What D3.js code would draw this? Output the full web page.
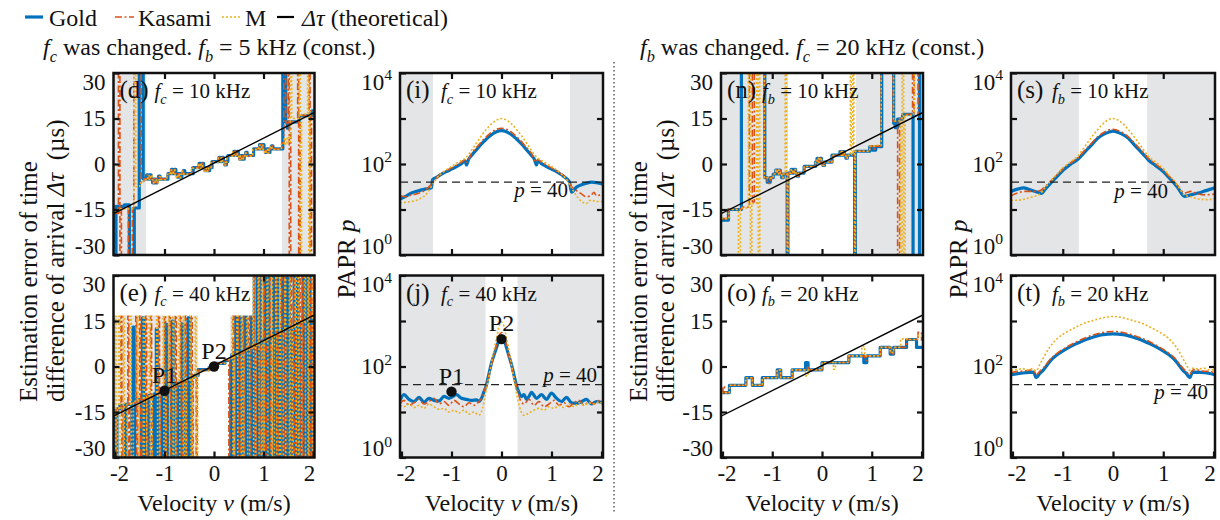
<!DOCTYPE html>
<html>
<head>
<meta charset="utf-8">
<script src="https://cdn.jsdelivr.net/npm/d3@7"></script>
<style>
  body { margin: 0; background: #fff; }
  svg { display: block; font-family: "Liberation Serif", "Times New Roman", serif; }
</style>
</head>
<body>
<svg id="fig" width="1220" height="520"></svg>
<script>
// ---------- axis values ----------
const velDomain = [-2.03, 2.03];
const velTicks = [-2, -1, 0, 1, 2];
const tauTicks = [-30, -15, 0, 15, 30];
const paprTicks = [1, 10, 100, 1000, 10000];
const paprLabelTicks = [1, 100, 10000];
const pThreshold = 40;

// theoretical Δτ (µs) at the ends of the velocity range
const theoryV = [-2.03, 2.03];
const theoryTau = [-16.4, 17.0];

// shaded velocity ranges (m/s)
const grayD = [[-2.03, -1.37], [1.37, 2.03]];
const grayE = [[-2.03, -0.32], [0.32, 2.03]];
const grayI = [[-2.03, -1.37], [1.37, 2.03]];
const grayJ = [[-2.03, -0.32], [0.32, 2.03]];
const grayN = [[-2.03, -0.68], [0.68, 2.03]];
const grayS = [[-2.03, -0.68], [0.68, 2.03]];

// ---------- (d) fc = 10 kHz : estimated Δτ [v, µs] ----------
const goldD = [
  [-2.03,-16.5],[-2.0,-33],[-1.98,-14],[-1.81,-13.5],[-1.71,-33],[-1.61,-14.5],[-1.51,33],[-1.43,-4.9],
  [-1.36,-3.6],[-1.33,-5],[-1.30,-3.6],[-1.27,-5],[-1.24,-6.2],[-1.21,-5],[-1.18,-6.2],[-1.15,-5],[-1.12,-4],[-1.09,-5],
  [-0.93,-3.2],[-0.86,-1.8],[-0.83,-3.2],[-0.80,-1.8],[-0.77,-3.2],[-0.74,-4.3],[-0.71,-3.2],[-0.68,-4.3],[-0.65,-3.2],[-0.62,-2.2],[-0.59,-3.2],
  [-0.42,-1.2],[-0.30,0.2],[-0.27,-1.2],[-0.24,0.2],[-0.21,-1.2],[-0.18,-2.2],[-0.15,-1.2],[-0.12,-2.2],[-0.09,-1.2],[-0.04,0.8],
  [0.10,2.2],[0.13,0.8],[0.16,2.2],[0.19,0.8],[0.22,-0.3],[0.25,0.8],[0.28,2.8],
  [0.40,4.2],[0.43,2.8],[0.46,4.2],[0.49,2.8],[0.52,1.6],[0.55,2.8],[0.58,1.6],[0.61,2.8],[0.64,3.8],[0.67,2.8],
  [0.80,5],[0.92,6.4],[0.95,5],[0.98,6.4],[1.01,5],[1.04,3.8],[1.07,5],[1.10,3.8],[1.13,5],[1.16,6],[1.19,5],
  [1.39,33],[1.45,13.9],[1.48,11.8],[1.51,13.9],[1.72,15.9],[1.98,17.5],[2.03,17.5]
];
const kasamiD = [
  [-2.03,-16.3],[-1.93,33],[-1.90,-33],[-1.87,-14.5],[-1.73,-33],[-1.65,-14.5],[-1.62,33],[-1.47,-6.2],[-1.42,-4.9],
  [-1.35,-3.6],[-1.32,-4.9],[-1.29,-3.6],[-1.26,-4.9],[-1.23,-6.2],[-1.20,-4.9],[-1.17,-6.2],[-1.14,-4.9],[-1.11,-4],[-1.08,-4.9],
  [-0.94,-3.2],[-0.87,-1.8],[-0.84,-3.2],[-0.81,-1.8],[-0.78,-3.2],[-0.75,-4.3],[-0.72,-3.2],[-0.69,-4.3],[-0.66,-3.2],[-0.63,-2.2],[-0.60,-3.2],
  [-0.45,-1.2],[-0.31,0.2],[-0.28,-1.2],[-0.25,0.2],[-0.22,-1.2],[-0.19,-2.2],[-0.16,-1.2],[-0.13,-2.2],[-0.10,-1.2],[-0.05,0.8],
  [0.09,2.2],[0.12,0.8],[0.15,2.2],[0.18,0.8],[0.21,-0.3],[0.24,0.8],[0.27,2.8],
  [0.39,4.2],[0.42,2.8],[0.45,4.2],[0.48,2.8],[0.51,1.6],[0.54,2.8],[0.57,1.6],[0.60,2.8],[0.63,3.8],[0.66,2.8],
  [0.79,5],[0.91,6.4],[0.94,5],[0.97,6.4],[1.00,5],[1.03,3.8],[1.06,5],[1.09,3.8],[1.12,5],[1.15,6],[1.18,5],
  [1.38,7],[1.41,33],[1.45,13.5],[1.50,33],[1.52,-33],[1.55,14],[1.69,33],[1.71,-33],[1.74,16],[1.92,33],[1.94,-33],[1.97,17.8]
];
const mD = [
  [-2.03,-15.5],[-1.88,-14.8],[-1.62,33],[-1.58,-7.5],[-1.50,-6.3],[-1.43,-5.2],
  [-1.34,-3.8],[-1.31,-5.2],[-1.28,-3.8],[-1.25,-5.2],[-1.22,-6.4],[-1.19,-5.2],[-1.16,-6.2],[-1.13,-5.2],[-1.10,-4.2],[-1.07,-5.2],
  [-0.95,-3.4],[-0.88,-2.0],[-0.85,-3.4],[-0.82,-2.0],[-0.79,-3.4],[-0.76,-4.5],[-0.73,-3.4],[-0.70,-4.5],[-0.67,-3.4],[-0.64,-2.4],[-0.61,-3.4],
  [-0.46,-1.4],[-0.32,0.0],[-0.29,-1.4],[-0.26,0.0],[-0.23,-1.4],[-0.20,-2.4],[-0.17,-1.4],[-0.14,-2.4],[-0.11,-1.4],[-0.06,0.6],
  [0.08,2.0],[0.11,0.6],[0.14,2.0],[0.17,0.6],[0.20,-0.5],[0.23,0.6],[0.26,2.6],
  [0.38,4.0],[0.41,2.6],[0.44,4.0],[0.47,2.6],[0.50,1.4],[0.53,2.6],[0.56,1.4],[0.59,2.6],[0.62,3.6],[0.65,2.6],
  [0.78,4.8],[0.90,6.2],[0.93,4.8],[0.96,6.2],[0.99,4.8],[1.02,3.6],[1.05,4.8],[1.08,3.6],[1.11,4.8],[1.14,5.8],[1.17,4.8],
  [1.36,6.5],[1.42,8.5],[1.45,6.5],[1.48,9],[1.51,7],[1.54,33],[1.57,15],[1.72,33],[1.745,-33],[1.77,16.5],[1.89,33],[1.915,-33],[1.94,17.5]
];

// ---------- (e) fc = 40 kHz : estimated Δτ [v, µs] ----------
const goldE = [
  [-2.03,-33],[-2.025,-15],[-2.01,-33],[-1.995,-14.5],[-1.975,-33],[-1.96,-14],[-1.90,-12.8],[-1.80,-33],[-1.78,-12.5],
  [-1.66,-33],[-1.64,13],[-1.615,-33],[-1.60,-11],[-1.47,-33],[-1.445,16],[-1.42,-33],[-1.405,-10],[-1.33,-33],[-1.315,-9.5],
  [-1.22,-33],[-1.205,-9],[-1.18,-33],[-1.165,12.5],[-1.145,-33],[-1.13,-8.5],[-1.05,-33],[-1.035,-8],[-0.99,-33],[-0.975,14],
  [-0.955,-33],[-0.94,-7],[-0.86,-33],[-0.845,15],[-0.825,-33],[-0.81,-6],[-0.74,-33],[-0.725,-5.5],[-0.66,-33],[-0.645,14],
  [-0.625,-33],[-0.61,-5],[-0.54,-33],[-0.525,16],[-0.50,-33],[-0.485,-3.5],[-0.40,-3],[-0.32,-1],
  [-0.10,-0.4],[0.02,1.0],[0.22,2.0],
  [0.34,-33],[0.36,4],[0.44,33],[0.46,-33],[0.49,4.5],[0.52,33],[0.54,-33],[0.57,5],[0.63,33],[0.65,-33],[0.68,6],
  [0.74,-33],[0.76,33],[0.79,-33],[0.82,7],[0.87,33],[0.89,-33],[0.92,33],[0.94,-33],[0.97,8.5],[1.03,33],[1.05,-33],
  [1.09,33],[1.11,-33],[1.14,9.5],[1.2,33],[1.22,-33],[1.27,33],[1.29,-33],[1.33,11],[1.38,33],[1.40,-33],[1.45,33],
  [1.47,-33],[1.5,33],[1.52,-33],[1.56,13],[1.62,33],[1.64,-33],[1.68,33],[1.70,-33],[1.75,14.5],[1.80,33],[1.82,-33],
  [1.86,33],[1.88,-33],[1.92,33],[1.94,-33],[1.97,16.5],[2.03,16.5]
];
const kasamiE = [
  [-2.03,-15],[-1.99,-33],[-1.97,-14],[-1.88,33],[-1.86,-33],[-1.84,-13],[-1.74,33],[-1.72,-33],[-1.70,-12],[-1.58,33],
  [-1.56,-33],[-1.54,-11],[-1.50,33],[-1.48,-33],[-1.46,-11],[-1.38,33],[-1.36,-33],[-1.34,-10],[-1.28,33],[-1.26,-33],
  [-1.24,-9.5],[-1.12,33],[-1.10,-33],[-1.08,-8.5],[-1.00,33],[-0.98,-33],[-0.96,-7.5],[-0.90,33],[-0.88,-33],[-0.86,-7],
  [-0.78,33],[-0.76,-33],[-0.74,-6],[-0.68,33],[-0.66,-33],[-0.64,-5],[-0.58,33],[-0.56,-33],[-0.54,-4.5],[-0.46,33],
  [-0.44,-33],[-0.42,-3.5],[-0.36,-33],[-0.34,-2.5],[-0.32,-1],
  [-0.10,-0.4],[0.02,1.2],[0.18,2.2],
  [0.30,-33],[0.32,3],[0.38,33],[0.40,-33],[0.43,4],[0.48,33],[0.50,-33],[0.53,4.5],[0.58,33],[0.60,-33],[0.62,5.5],
  [0.70,33],[0.72,-33],[0.75,6.5],[0.80,33],[0.82,-33],[0.85,7.5],[0.90,33],[0.92,-33],[0.95,8],[1.00,33],[1.02,-33],
  [1.06,9],[1.12,33],[1.14,-33],[1.17,10],[1.24,33],[1.26,-33],[1.30,11],[1.35,33],[1.37,-33],[1.42,33],[1.44,-33],
  [1.48,12.5],[1.54,33],[1.56,-33],[1.60,33],[1.62,-33],[1.66,14],[1.72,33],[1.74,-33],[1.78,33],[1.80,-33],[1.84,15],
  [1.89,33],[1.91,-33],[1.95,33],[1.98,-33],[2.01,17]
];
const mE = [
  [-2.03,-16],[-2.0,33],[-1.98,-33],[-1.95,-14],[-1.92,33],[-1.90,-33],[-1.83,33],[-1.81,-33],[-1.76,-12.5],[-1.69,33],
  [-1.67,-33],[-1.63,-11.5],[-1.55,33],[-1.53,-33],[-1.43,33],[-1.41,-33],[-1.36,-10],[-1.31,33],[-1.29,-33],[-1.25,-9.5],
  [-1.16,33],[-1.14,-33],[-1.10,-8.5],[-1.03,33],[-1.01,-33],[-0.97,-7.5],[-0.92,33],[-0.90,-33],[-0.83,33],[-0.81,-33],
  [-0.77,-6],[-0.71,33],[-0.69,-33],[-0.62,33],[-0.60,-33],[-0.56,-4.5],[-0.49,33],[-0.47,-33],[-0.43,-3.5],[-0.38,33],
  [-0.36,-33],[-0.33,-1.5],
  [-0.10,-0.6],[0.02,1.0],[0.22,2.3],
  [0.36,33],[0.38,-33],[0.41,3.8],[0.46,33],[0.48,-33],[0.55,33],[0.57,-33],[0.60,5.2],[0.66,33],[0.68,-33],[0.72,6],
  [0.78,33],[0.80,-33],[0.84,7],[0.89,33],[0.91,-33],[0.96,33],[0.98,-33],[1.02,8.5],[1.07,33],[1.09,-33],[1.16,33],
  [1.18,-33],[1.22,10],[1.25,33],[1.27,-33],[1.32,33],[1.34,-33],[1.40,12],[1.43,33],[1.45,-33],[1.52,33],[1.54,-33],
  [1.58,13],[1.64,33],[1.66,-33],[1.70,33],[1.72,-33],[1.77,14.5],[1.83,33],[1.85,-33],[1.90,33],[1.92,-33],[1.99,33],[2.01,-33]
];
const markersE = [[-1, -8, "P1"], [0, 0, "P2"]];

// ---------- (i) fc = 10 kHz : PAPR [v, p] ----------
const goldI = [
  [-2.03,17],[-1.9,20],[-1.8,23],[-1.7,25],[-1.6,27],[-1.5,28.5],[-1.40,30],[-1.38,45],[-1.3,51],[-1.2,60],[-1.1,68],
  [-1.0,77],[-0.9,88],[-0.8,102],[-0.73,118],[-0.70,95],[-0.66,125],[-0.6,154],[-0.5,205],[-0.4,277],[-0.3,355],
  [-0.2,440],[-0.1,510],[0,540],[0.1,510],[0.2,440],[0.3,355],[0.4,277],[0.5,205],[0.6,154],[0.66,125],[0.70,95],
  [0.73,118],[0.8,102],[0.9,88],[1.0,77],[1.1,68],[1.2,58],[1.3,48],[1.36,40],[1.40,24],[1.5,31],[1.6,35],[1.7,38],
  [1.8,40],[1.9,39],[2.03,36]
];
const kasamiI = [
  [-2.03,20],[-1.9,19],[-1.8,21],[-1.7,22],[-1.6,24],[-1.5,28],[-1.4,36],[-1.3,50],[-1.2,62],[-1.1,72],[-1.0,82],
  [-0.9,95],[-0.8,110],[-0.72,125],[-0.70,110],[-0.6,170],[-0.5,230],[-0.4,310],[-0.3,400],[-0.2,500],[-0.1,580],
  [0,610],[0.1,580],[0.2,500],[0.3,400],[0.4,310],[0.5,230],[0.6,170],[0.70,110],[0.72,125],[0.8,110],[0.9,95],
  [1.0,82],[1.1,70],[1.2,60],[1.3,48],[1.4,32],[1.5,26],[1.6,22],[1.7,19],[1.8,21],[1.85,24],[1.9,20],[2.0,22],[2.03,23]
];
const mI = [
  [-2.03,14],[-1.9,14.5],[-1.8,15],[-1.7,16],[-1.6,18],[-1.5,22],[-1.4,32],[-1.3,48],[-1.2,62],[-1.1,75],[-1.0,88],
  [-0.9,103],[-0.8,120],[-0.72,135],[-0.6,200],[-0.5,290],[-0.4,420],[-0.3,580],[-0.2,760],[-0.1,920],[0,1000],
  [0.1,920],[0.2,760],[0.3,580],[0.4,420],[0.5,290],[0.6,200],[0.72,135],[0.8,120],[0.9,103],[1.0,88],[1.1,74],
  [1.2,60],[1.3,46],[1.4,30],[1.5,20],[1.6,15],[1.7,13.5],[1.75,15.5],[1.8,16],[1.9,15],[2.03,15]
];

// ---------- (j) fc = 40 kHz : PAPR [v, p] ----------
const goldJ = [
  [-2.03,18],[-1.95,24],[-1.85,19],[-1.75,17],[-1.65,21],[-1.55,16.5],[-1.45,20],[-1.35,18],[-1.25,17.5],[-1.15,22],
  [-1.05,20],[-1.0,21],[-0.9,24],[-0.8,20],[-0.7,19],[-0.6,18],[-0.5,18.5],[-0.45,17],[-0.4,20],[-0.35,28],[-0.3,40],
  [-0.25,70],[-0.2,120],[-0.15,180],[-0.1,260],[-0.05,380],[0,430],[0.05,390],[0.1,260],[0.15,170],[0.2,110],
  [0.25,65],[0.3,38],[0.35,27],[0.4,22],[0.45,24],[0.5,19],[0.55,22],[0.6,27],[0.7,20],[0.8,24],[0.9,19],[1.0,26],
  [1.1,20],[1.2,17],[1.3,21],[1.4,16],[1.5,15.5],[1.6,17],[1.7,19],[1.8,15],[1.9,17],[2.03,16]
];
const kasamiJ = [
  [-2.03,15],[-1.95,18],[-1.85,14],[-1.75,16],[-1.65,19],[-1.55,15],[-1.45,17],[-1.35,20],[-1.25,15],[-1.15,17],
  [-1.05,14],[-0.95,18],[-0.85,15],[-0.75,13],[-0.65,16],[-0.55,14],[-0.45,17],[-0.38,22],[-0.32,35],[-0.26,60],
  [-0.2,110],[-0.15,180],[-0.1,300],[-0.05,480],[0,560],[0.05,470],[0.1,300],[0.15,170],[0.2,100],[0.26,55],[0.32,30],
  [0.38,18],[0.45,15],[0.55,19],[0.65,14],[0.75,17],[0.85,13],[0.95,15],[1.05,18],[1.15,14],[1.25,16],[1.35,13],
  [1.45,16],[1.55,18],[1.65,14],[1.75,17],[1.85,15],[1.95,18],[2.03,14]
];
const mJ = [
  [-2.03,14],[-1.95,13],[-1.85,15],[-1.75,12.5],[-1.65,14],[-1.55,12],[-1.45,15],[-1.35,13],[-1.25,11.5],[-1.15,12],
  [-1.05,10],[-0.95,11],[-0.85,9.5],[-0.75,11],[-0.65,9],[-0.55,10],[-0.45,8.5],[-0.38,12],[-0.32,25],[-0.26,55],
  [-0.2,120],[-0.15,230],[-0.1,420],[-0.05,750],[0,950],[0.05,760],[0.1,420],[0.15,220],[0.2,110],[0.26,45],[0.32,20],
  [0.38,11],[0.45,8.5],[0.55,9.5],[0.65,11],[0.75,12],[0.85,11],[0.95,13],[1.05,12],[1.15,14],[1.25,12.5],[1.35,15],
  [1.45,13],[1.55,16],[1.65,14],[1.75,16],[1.85,15],[1.95,16.5],[2.03,15]
];
const markersJ = [[-1, 28, "P1"], [0, 400, "P2"]];

// ---------- (n) fb = 10 kHz : estimated Δτ [v, µs] ----------
const goldN = [
  [-2.03,-18.5],[-1.88,-15],[-1.62,33],[-1.15,-4.5],[-1.10,-6],[-1.04,-4.5],[-0.98,-3.3],
  [-0.93,-2.0],[-0.90,-3.3],[-0.87,-2.0],[-0.84,-3.3],[-0.81,-4.5],[-0.78,-3.3],
  [-0.70,-33],[-0.685,-3.0],
  [-0.62,-1.8],[-0.59,-3.0],[-0.56,-1.8],[-0.53,-3.0],[-0.50,-4.0],[-0.47,-3.0],
  [-0.36,-0.8],
  [-0.13,0.6],[-0.10,1.9],[-0.07,0.6],[-0.04,1.9],[-0.01,0.6],[0.02,-0.5],[0.05,0.6],
  [0.20,2.9],[0.36,4.1],[0.39,2.9],[0.42,4.1],[0.45,2.9],[0.48,1.9],[0.51,2.9],
  [0.655,-33],[0.67,4.2],
  [0.96,5.7],[1.01,4.6],[1.08,5.7],
  [1.20,33],[1.44,13.4],[1.47,12],[1.52,14.8],[1.62,16.4],[1.83,-33],[1.96,33]
];
const kasamiN = [
  [-2.03,-18],[-1.87,-14.8],[-1.60,-14.2],[-1.46,33],[-1.40,-12.5],[-1.36,33],[-1.15,-4.5],[-1.10,-6.4],[-1.04,-4.5],[-0.98,-3.3],
  [-0.93,-2.0],[-0.90,-3.3],[-0.87,-2.0],[-0.84,-3.3],[-0.81,-4.5],[-0.78,-3.3],
  [-0.70,-33],[-0.685,-3.0],
  [-0.62,-1.8],[-0.59,-3.0],[-0.56,-1.8],[-0.53,-3.0],[-0.50,-4.0],[-0.47,-3.0],
  [-0.36,-0.8],
  [-0.13,0.6],[-0.10,1.9],[-0.07,0.6],[-0.04,1.9],[-0.01,0.6],[0.02,-0.5],[0.05,0.6],
  [0.20,2.9],[0.36,4.1],[0.39,2.9],[0.42,4.1],[0.45,2.9],[0.48,1.9],[0.51,2.9],
  [0.655,-33],[0.67,4.2],
  [0.96,5.9],[1.02,5.0],[1.08,5.9],
  [1.19,33],[1.43,14],[1.52,-33],[1.56,15],[1.64,16.4],[1.82,33],[1.85,16],[1.93,33]
];
const mN = [
  [-2.03,-18],[-1.87,-15],[-1.68,-33],[-1.64,-14.5],[-1.48,33],[-1.44,-33],[-1.41,-13],[-1.31,33],[-1.28,-33],[-1.25,33],
  [-1.16,-4.5],[-1.04,-4.7],[-0.98,-3.3],
  [-0.93,-2.0],[-0.90,-3.3],[-0.87,-2.0],[-0.84,-3.3],[-0.81,-4.5],[-0.78,-3.3],
  [-0.74,33],[-0.715,-3.0],[-0.70,-33],[-0.685,-3.0],
  [-0.62,-1.8],[-0.59,-3.0],[-0.56,-1.8],[-0.53,-3.0],[-0.50,-4.0],[-0.47,-3.0],
  [-0.36,-0.8],
  [-0.13,0.6],[-0.10,1.9],[-0.07,0.6],[-0.04,1.9],[-0.01,0.6],[0.02,-0.5],[0.05,0.6],
  [0.20,2.9],[0.36,4.1],[0.39,2.9],[0.42,4.1],[0.45,2.9],[0.48,1.9],[0.51,2.9],
  [0.57,33],[0.59,3.2],[0.62,33],[0.64,3.4],[0.655,-33],[0.67,4.2],
  [0.96,5.9],[1.08,6.2],
  [1.19,33],[1.44,14.2],[1.58,-33],[1.61,33],[1.64,-33],[1.67,16],[1.83,16.5],[1.86,33]
];

// ---------- (o) fb = 20 kHz : estimated Δτ [v, µs] ----------
const goldO = [
  [-2.03,-8.6],[-1.86,-6.2],[-1.53,-3.7],[-1.40,-6.2],[-1.20,-3.7],[-0.90,-1.1],[-0.83,-3.7],[-0.60,-1.1],
  [-0.33,1.3],[-0.28,-1.1],[0.0,1.3],[0.54,3.5],[0.84,1.3],[0.90,3.5],[1.17,6.3],[1.37,4.1],[1.44,6.3],
  [1.70,8.9],[1.90,6.3],[2.03,6.3]
];
const kasamiO = [
  [-2.03,-8.6],[-1.99,-6.6],[-1.96,-8.6],[-1.86,-6.2],[-1.53,-3.7],[-1.40,-6.2],[-1.20,-3.7],[-0.90,-1.1],
  [-0.83,-3.7],[-0.60,-1.1],[-0.33,-0.3],[-0.28,-1.1],[0.0,1.3],[0.54,3.5],[0.86,2.0],[0.90,3.5],[1.17,6.3],
  [1.37,4.1],[1.44,6.3],[1.70,8.9],[1.93,11.3],[2.0,8.5]
];
const mO = [
  [-2.03,-8.6],[-1.86,-6.2],[-1.53,-3.7],[-1.40,-6.2],[-1.20,-3.7],[-0.90,-1.1],[-0.83,-3.7],[-0.60,-1.1],
  [-0.33,-3.1],[-0.28,-1.1],[0.0,1.3],[0.23,-0.9],[0.27,1.3],[0.54,3.5],[0.80,6.6],[0.86,3.5],[1.17,6.3],
  [1.37,4.6],[1.44,6.3],[1.58,9.1],[1.72,8.9],[1.92,10.2],[2.0,9]
];

// ---------- (s) fb = 10 kHz : PAPR [v, p] ----------
const goldS = [
  [-2.03,25],[-1.9,28],[-1.78,30],[-1.65,27],[-1.5,24],[-1.42,22.5],[-1.35,28],[-1.24,38],[-1.1,55],[-0.98,75],
  [-0.85,98],[-0.7,126],[-0.6,165],[-0.45,247],[-0.3,370],[-0.15,470],[0,530],[0.15,470],[0.3,370],[0.45,247],
  [0.6,165],[0.7,124],[0.85,92],[1.0,68],[1.1,52],[1.2,40],[1.3,29],[1.42,19.5],[1.55,21],[1.7,23],[1.85,26],[2.03,30]
];
const kasamiS = [
  [-2.03,20],[-1.9,23],[-1.75,25],[-1.6,25],[-1.45,26],[-1.35,32],[-1.24,42],[-1.1,60],[-0.98,82],[-0.85,105],
  [-0.7,135],[-0.6,180],[-0.45,270],[-0.3,400],[-0.15,520],[0,580],[0.15,520],[0.3,400],[0.45,270],[0.6,180],
  [0.7,135],[0.85,100],[1.0,72],[1.1,56],[1.2,43],[1.3,32],[1.42,23],[1.55,25],[1.7,22],[1.85,21],[2.03,22]
];
const mS = [
  [-2.03,16],[-1.9,16],[-1.75,17],[-1.6,19],[-1.45,22],[-1.35,30],[-1.24,42],[-1.1,62],[-0.98,85],[-0.85,110],
  [-0.7,150],[-0.6,210],[-0.45,360],[-0.3,580],[-0.15,850],[0,1000],[0.15,850],[0.3,580],[0.45,360],[0.6,210],
  [0.7,150],[0.85,110],[1.0,80],[1.1,60],[1.2,45],[1.3,32],[1.42,21],[1.55,19],[1.7,17],[1.85,16.5],[2.03,17]
];

// ---------- (t) fb = 20 kHz : PAPR [v, p] ----------
const goldT = [
  [-2.03,66],[-1.9,70],[-1.75,73],[-1.58,75],[-1.53,57],[-1.45,72],[-1.4,80],[-1.3,112],[-1.26,128],[-1.1,185],
  [-0.93,244],[-0.75,310],[-0.6,370],[-0.4,440],[-0.2,500],[0,520],[0.2,500],[0.4,440],[0.6,370],[0.75,310],
  [0.93,244],[1.1,185],[1.26,128],[1.3,112],[1.4,80],[1.45,72],[1.53,57],[1.58,75],[1.75,74],[1.9,71],[2.03,66]
];
const kasamiT = [
  [-2.03,74],[-1.9,78],[-1.75,80],[-1.65,84],[-1.58,80],[-1.53,66],[-1.45,80],[-1.4,90],[-1.3,122],[-1.26,140],
  [-1.1,200],[-0.93,265],[-0.75,340],[-0.6,405],[-0.4,490],[-0.2,560],[0,590],[0.2,560],[0.4,490],[0.6,405],
  [0.75,340],[0.93,265],[1.1,200],[1.26,140],[1.3,122],[1.4,90],[1.45,80],[1.53,66],[1.58,82],[1.65,86],[1.75,80],
  [1.9,78],[2.03,74]
];
const mT = [
  [-2.03,82],[-1.9,86],[-1.8,90],[-1.7,84],[-1.6,90],[-1.53,80],[-1.45,115],[-1.26,265],[-1.1,420],[-0.93,565],
  [-0.75,720],[-0.6,870],[-0.4,1020],[-0.2,1180],[0,1260],[0.2,1180],[0.4,1020],[0.6,870],[0.75,720],[0.93,565],
  [1.1,420],[1.26,265],[1.45,115],[1.53,82],[1.6,92],[1.7,88],[1.8,92],[1.9,85],[2.03,84]
];

// ---------- layout ----------
const cols = [{x: 113.5, w: 201}, {x: 400, w: 203}, {x: 721, w: 202}, {x: 1011, w: 204}];
const rows = [{y: 73, h: 182}, {y: 275.5, h: 182}];

const panels = [
  {key: "d", c: 0, r: 0, kind: "tau",  tag: "(d)", sym: "c", freq: "10", gray: grayD, series: [goldD, kasamiD, mD]},
  {key: "e", c: 0, r: 1, kind: "tau",  tag: "(e)", sym: "c", freq: "40", gray: grayE, series: [goldE, kasamiE, mE], marks: markersE, box: [139, 40]},
  {key: "i", c: 1, r: 0, kind: "papr", tag: "(i)", sym: "c", freq: "10", gray: grayI, series: [goldI, kasamiI, mI], pLab: [35, 15]},
  {key: "j", c: 1, r: 1, kind: "papr", tag: "(j)", sym: "c", freq: "40", gray: grayJ, series: [goldJ, kasamiJ, mJ], pLab: [6, -3], marks: markersJ},
  {key: "n", c: 2, r: 0, kind: "tau",  tag: "(n)", sym: "b", freq: "10", gray: grayN, series: [goldN, kasamiN, mN]},
  {key: "o", c: 2, r: 1, kind: "tau",  tag: "(o)", sym: "b", freq: "20", gray: [],    series: [goldO, kasamiO, mO]},
  {key: "s", c: 3, r: 0, kind: "papr", tag: "(s)", sym: "b", freq: "10", gray: grayS, series: [goldS, kasamiS, mS], pLab: [47, 16]},
  {key: "t", c: 3, r: 1, kind: "papr", tag: "(t)", sym: "b", freq: "20", gray: [],    series: [goldT, kasamiT, mT], pLab: [7, 14]}
];

// line styles: Gold, Kasami, M
const styles = [
  {stroke: "#0072BD", width: 3.2, dash: null},
  {stroke: "#D95319", width: 1.6, dash: "7,2.5,2,2.5"},
  {stroke: "#EDB120", width: 1.6, dash: "2,2"}
];
const grayFill = "#e4e5e7";
const ink = "#111";

const svg = d3.select("#fig");

// text with italic / sub / superscript runs
function rich(t, parts, size) {
  let shift = 0;
  parts.forEach(p => {
    const ts = t.append("tspan").text(p.t);
    if (p.i) ts.attr("font-style", "italic");
    const target = p.sub ? size * 0.28 : p.sup ? -size * 0.42 : 0;
    if (target !== shift) { ts.attr("dy", target - shift); shift = target; }
    if (p.sub || p.sup) ts.attr("font-size", size * 0.68);
  });
  return t;
}
function addText(parent, x, y, parts, size, anchor) {
  const t = parent.append("text").attr("x", x).attr("y", y)
    .attr("font-size", size).attr("text-anchor", anchor || "start").attr("fill", ink);
  return rich(t, parts, size);
}

// ---------- legend ----------
const legend = svg.append("g");
const legItems = [
  {x0: 25, x1: 43, tx: 49, s: 0, parts: [{t: "Gold"}]},
  {x0: 115, x1: 134, tx: 138, s: 1, parts: [{t: "Kasami"}]},
  {x0: 222, x1: 240, tx: 245, s: 2, parts: [{t: "M"}]},
  {x0: 277, x1: 294, tx: 302, s: 3, parts: [{t: "Δτ", i: true}, {t: " (theoretical)"}]}
];
legItems.forEach(it => {
  const st = it.s < 3 ? styles[it.s] : {stroke: "#000", width: 2.2, dash: null};
  legend.append("line").attr("x1", it.x0).attr("x2", it.x1).attr("y1", 17).attr("y2", 17)
    .attr("stroke", st.stroke).attr("stroke-width", st.width).attr("stroke-dasharray", st.dash);
  addText(legend, it.tx, 26, it.parts, 24);
});

// ---------- group titles ----------
addText(svg, 43, 55, [{t: "f", i: true}, {t: "c", i: true, sub: true}, {t: " was changed. "},
  {t: "f", i: true}, {t: "b", i: true, sub: true}, {t: " = 5 kHz (const.)"}], 24);
addText(svg, 640, 55, [{t: "f", i: true}, {t: "b", i: true, sub: true}, {t: " was changed. "},
  {t: "f", i: true}, {t: "c", i: true, sub: true}, {t: " = 20 kHz (const.)"}], 24);

// separator between the two groups
svg.append("line").attr("x1", 614).attr("x2", 614).attr("y1", 62).attr("y2", 512)
  .attr("stroke", "#333").attr("stroke-width", 1.2).attr("stroke-dasharray", "1.5,2.5");

// ---------- y-axis titles ----------
function vText(x, y, parts, size, anchor) {
  const t = svg.append("text").attr("transform", `translate(${x},${y}) rotate(-90)`)
    .attr("font-size", size).attr("text-anchor", anchor).attr("fill", ink);
  rich(t, parts, size);
}
[0, 610].forEach(off => {
  vText(37 + off, 402, [{t: "Estimation error of time"}], 25, "start");
  vText(64 + off, 402, [{t: "difference of arrival "}, {t: "Δτ", i: true}, {t: "\u00a0 (µs)"}], 25, "start");
});
vText(355, 259, [{t: "PAPR "}, {t: "p", i: true}], 25, "middle");
vText(967, 259, [{t: "PAPR "}, {t: "p", i: true}], 25, "middle");

// ---------- panels ----------
panels.forEach(p => {
  const C = cols[p.c], R = rows[p.r];
  const x = d3.scaleLinear().domain(velDomain).range([C.x, C.x + C.w]);
  const y = p.kind === "tau"
    ? d3.scaleLinear().domain([-30, 30]).range([R.y + R.h, R.y])
    : d3.scaleLog().domain([1, 1e4]).range([R.y + R.h, R.y]);
  const g = svg.append("g").attr("class", "panel-" + p.key);
  const clipId = "clip-" + p.key;
  svg.append("clipPath").attr("id", clipId).append("rect")
    .attr("x", C.x).attr("y", R.y).attr("width", C.w).attr("height", R.h);

  // shaded ranges
  g.selectAll("rect.band").data(p.gray).join("rect").attr("class", "band")
    .attr("x", d => x(d[0])).attr("width", d => x(d[1]) - x(d[0]))
    .attr("y", R.y).attr("height", R.h).attr("fill", grayFill);

  const plot = g.append("g").attr("clip-path", `url(#${clipId})`);
  const line = d3.line().x(d => x(d[0])).y(d => y(d[1]))
    .curve(p.kind === "tau" ? d3.curveStepAfter : d3.curveMonotoneX);

  p.series.forEach((s, i) => {
    plot.append("path").attr("d", line(s)).attr("fill", "none")
      .attr("stroke", styles[i].stroke).attr("stroke-width", styles[i].width)
      .attr("stroke-dasharray", styles[i].dash).attr("stroke-linejoin", "round");
  });

  if (p.kind === "tau") {
    const th = theoryV.map((v, k) => [v, theoryTau[k]]);
    plot.append("path").attr("d", d3.line().x(d => x(d[0])).y(d => y(d[1]))(th))
      .attr("fill", "none").attr("stroke", "#000").attr("stroke-width", 1.4);
  } else {
    plot.append("line").attr("x1", C.x).attr("x2", C.x + C.w)
      .attr("y1", y(pThreshold)).attr("y2", y(pThreshold))
      .attr("stroke", "#222").attr("stroke-width", 1.4).attr("stroke-dasharray", "8,5");
    addText(g, C.x + C.w - p.pLab[0], y(pThreshold) + p.pLab[1],
      [{t: "p", i: true}, {t: " = " + pThreshold}], 21, "end");
  }

  if (p.box) {
    g.append("rect").attr("x", C.x).attr("y", R.y).attr("width", p.box[0]).attr("height", p.box[1])
      .attr("fill", "#fff");
  }

  // panel tag and parameter
  addText(g, C.x + 6, R.y + 25, [{t: p.tag}], 25);
  addText(g, C.x + 41, R.y + 25, [{t: "f", i: true}, {t: p.sym, i: true, sub: true},
    {t: " = " + p.freq + " kHz"}], 21);

  // marked points
  (p.marks || []).forEach(m => {
    g.append("circle").attr("cx", x(m[0])).attr("cy", y(m[1])).attr("r", 5.2).attr("fill", "#111");
    addText(g, x(m[0]), y(m[1]) - 8, [{t: m[2]}], 24, "middle");
  });

  // frame
  g.append("rect").attr("x", C.x).attr("y", R.y).attr("width", C.w).attr("height", R.h)
    .attr("fill", "none").attr("stroke", ink).attr("stroke-width", 2.5);

  // axes (ticks point inward on all four sides)
  const yVals = p.kind === "tau" ? tauTicks : paprTicks;
  const yInner = p.kind === "tau" ? [-15, 0, 15] : [10, 100, 1000];
  const fmtY = p.kind === "tau" ? (d => String(d)) : (() => "");
  const styleAxis = sel => {
    sel.select(".domain").remove();
    sel.attr("font-family", null).attr("font-size", 23);
    sel.selectAll("line").attr("stroke", ink).attr("stroke-width", 2.2);
    sel.selectAll("text").attr("fill", ink);
  };

  const ax = g.append("g").attr("transform", `translate(${C.x},0)`)
    .call(d3.axisLeft(y).tickValues(yVals).tickSizeInner(-6).tickSizeOuter(0).tickPadding(8).tickFormat(fmtY))
    .call(styleAxis);
  const yMax = yVals[yVals.length - 1], yMin = yVals[0];
  ax.selectAll(".tick text").each(function (d) {
    const t = d3.select(this);
    if (d === yMax) t.attr("y", 9);
    if (d === yMin) t.attr("y", -9);
    if (p.kind === "papr" && paprLabelTicks.includes(d)) {
      const e = Math.round(Math.log10(d));
      rich(t, [{t: "10"}, {t: String(e), sup: true}], 23);
    }
  });

  g.append("g").attr("transform", `translate(${C.x + C.w},0)`)
    .call(d3.axisRight(y).tickValues(yInner).tickSizeInner(-6).tickSizeOuter(0).tickFormat(""))
    .call(styleAxis);

  const bx = g.append("g").attr("transform", `translate(0,${R.y + R.h})`)
    .call(d3.axisBottom(x).tickValues(p.r === 1 ? velTicks : [-1, 0, 1]).tickSizeInner(-6).tickSizeOuter(0)
      .tickPadding(7).tickFormat(p.r === 1 ? (d => String(d)) : () => ""))
    .call(styleAxis);
  bx.selectAll(".tick text").each(function (d) {
    if (d === velTicks[0]) d3.select(this).attr("x", 4);
    if (d === velTicks[velTicks.length - 1]) d3.select(this).attr("x", -4);
  });

  g.append("g").attr("transform", `translate(0,${R.y})`)
    .call(d3.axisTop(x).tickValues([-1, 0, 1]).tickSizeInner(-6).tickSizeOuter(0).tickFormat(""))
    .call(styleAxis);

  if (p.r === 1) {
    addText(g, C.x + C.w / 2, 511, [{t: "Velocity "}, {t: "v", i: true}, {t: " (m/s)"}], 24, "middle");
  }
});
</script>
</body>
</html>
